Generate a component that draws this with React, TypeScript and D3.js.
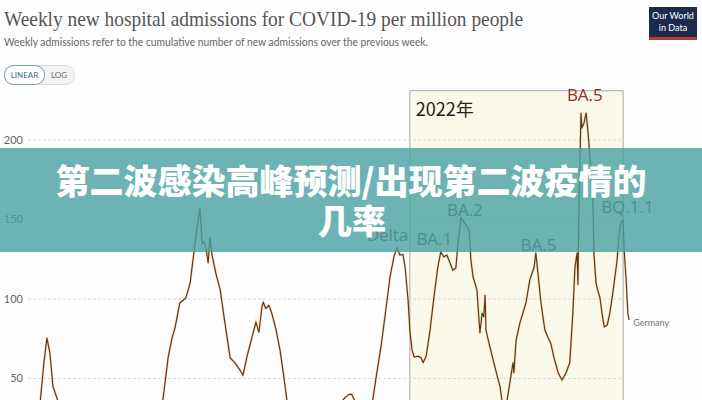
import React from 'react';
import * as d3 from 'd3';

// Germany – weekly new hospital admissions per million (week index from start of series)
const weeks = [
  0.5, 2.8, 3.7, 4.4, 5.1, 5.8, 6.7, 7.9, 9.8, 14.4, 21.4, 28.4, 30.7, 31.4, 32.6, 33.5, 34.2, 35.3,
  36.7, 37.7, 38.6, 39.3, 40.0, 40.5, 40.9, 41.4, 41.9, 42.3, 42.8, 43.7, 44.7, 45.8, 47.0, 48.1,
  49.3, 50.0, 50.9, 52.1, 53.0, 53.7, 54.4, 54.7, 55.3, 56.0, 56.7, 57.7, 58.6, 59.5, 60.2, 61.4,
  65.6, 70.2, 73.7, 74.7, 75.3, 76.0, 77.7, 79.5, 80.2, 81.2, 82.1, 83.3, 84.2, 85.1, 85.8, 86.5,
  87.2, 87.7, 88.4, 88.8, 89.3, 89.8, 90.7, 91.4, 91.9, 92.6, 93.5, 94.4, 95.3, 96.0, 96.7, 97.4,
  98.1, 98.8, 99.5, 100.0, 100.7, 101.9, 102.6, 103.0, 103.5, 104.4, 105.1, 105.6, 106.0, 106.3,
  106.5, 107.4, 108.6, 109.8, 110.2, 110.9, 111.4, 112.1, 112.8, 113.0, 113.5, 114.4, 115.8, 116.7,
  117.7, 118.1, 118.6, 119.3, 120.2, 120.9, 121.6, 122.3, 123.3, 124.2, 125.1, 126.0, 126.7, 127.2,
  127.7, 127.9, 128.1, 128.6, 128.8, 129.3, 129.8, 130.2, 130.7, 131.4, 131.6, 132.1, 132.6, 133.0,
  133.5, 134.0, 134.7, 135.3, 136.0, 137.0, 137.4, 137.9, 138.4, 138.6, 139.1, 139.5, 139.8,
];
const admissions = [
  20, 34, 60, 75.5, 66, 45, 38, 25, 15, 10, 8, 20, 33, 37, 63.5, 75.5, 82, 97.5,
  100.6, 110, 129.6, 145, 157, 135, 136, 132, 122.6, 139, 127.7, 116, 105.7, 85, 63, 60,
  55.3, 52, 63.5, 76, 85.5, 79, 95, 98, 94, 96, 91, 80.5, 68, 51, 36.5, 28,
  20, 25, 38, 40, 40, 36, 30, 32, 37, 55, 70, 95, 114, 126.6, 132, 127.7,
  128, 120, 99, 80.5, 68, 63.5, 64, 63, 60, 64, 80.5, 101, 120, 129.6, 126.5, 127.7,
  123, 118, 119.5, 135, 151, 146.5, 143, 124.5, 114, 105.7, 78.6, 91, 88.7, 102.5,
  80.5, 70, 57, 44.6, 36.5, 33, 36, 48, 60, 53.5, 74, 85, 97.5, 112,
  120, 129, 116, 97.5, 80.5, 76, 72, 63.5, 53.5, 49, 53.5, 60, 91, 120,
  129, 109, 154, 217, 207.5, 210.7, 217, 206, 189, 158, 129, 110, 104.5, 101,
  91, 82.4, 83.6, 91, 103.7, 124.5, 139, 148, 149.7, 132.7, 112, 91, 86.8,
];

const yTicks = [50, 100, 150, 200];

// variant annotations
const variantNames = ['Delta', 'BA.1', 'BA.2', 'BA.5', 'BA.5', 'BQ.1.1'];
const variantWeeks = [83.6, 94.5, 101.6, 118.7, 129.5, 139.4];
const variantValues = [136.5, 134, 152.2, 130.2, 224.5, 154];
const variantHighlight = [false, false, false, false, true, false];

// the 2022 window
const yearLabel = '2022年';
const yearStartWeek = 88.8;
const yearEndWeek = 138.4;
const yearTopValue = 231;

const titleText = 'Weekly new hospital admissions for COVID-19 per million people';
const subtitleText = 'Weekly admissions refer to the cumulative number of new admissions over the previous week.';
const bannerLines = ['第二波感染高峰预测/出现第二波疫情的', '几率'];
const seriesName = 'Germany';

export default function App() {
  const width = 702;
  const height = 400;
  const x = d3.scaleLinear().domain([0, 140]).range([28, 630]);
  const y = d3.scaleLinear().domain([0, 200]).range([458, 140]);

  const pts = weeks.map((w, i) => [w, admissions[i]] as [number, number]);
  const line = d3
    .line<[number, number]>()
    .x((d) => x(d[0]))
    .y((d) => y(d[1]))
    .curve(d3.curveLinear);

  const last = pts[pts.length - 1];

  return (
    <svg
      width={width}
      height={height}
      style={{ position: 'absolute', left: 0, top: 0, background: '#fff' }}
    >
      <rect x={0} y={0} width={width} height={height} fill="#fdfdfd" />
      {/* title */}
      <text
        x={4}
        y={26}
        fontFamily="'Liberation Serif', serif"
        fontSize={21}
        fill="#555"
        textLength={519}
        lengthAdjust="spacingAndGlyphs"
      >
        {titleText}
      </text>
      <text
        x={4}
        y={46}
        fontFamily="Lato, sans-serif"
        fontSize={11}
        fill="#666"
        textLength={424}
        lengthAdjust="spacingAndGlyphs"
      >
        {subtitleText}
      </text>

      {/* LINEAR / LOG toggle */}
      <rect x={4.5} y={65.5} width={70} height={19} rx={9} fill="#f3f3f3" stroke="#ddd" />
      <rect x={4.5} y={65.5} width={40} height={19} rx={9} fill="#fff" stroke="#7d9fb2" />
      <text x={24.5} y={78} textAnchor="middle" fontFamily="Lato, sans-serif" fontSize={8} fill="#46688a">
        LINEAR
      </text>
      <text x={59} y={78} textAnchor="middle" fontFamily="Lato, sans-serif" fontSize={8} fill="#666">
        LOG
      </text>

      {/* OWID logo */}
      <rect x={649} y={7} width={48} height={33} fill="#1d2a4d" />
      <rect x={649} y={37} width={48} height={3} fill="#b23a3a" />
      <text x={673} y={19} textAnchor="middle" fontFamily="Lato, sans-serif" fontSize={9} fill="#fff">
        Our World
      </text>
      <text x={673} y={31} textAnchor="middle" fontFamily="Lato, sans-serif" fontSize={9} fill="#fff">
        in Data
      </text>

      {/* 2022 window */}
      <rect
        x={x(yearStartWeek)}
        y={y(yearTopValue)}
        width={x(yearEndWeek) - x(yearStartWeek)}
        height={y(0) - y(yearTopValue)}
        fill="#fbf9e9"
        stroke="#a9a9a9"
        strokeWidth={1}
      />

      {/* grid */}
      {yTicks.map((t) => (
        <g key={t}>
          <line
            x1={x(0)}
            x2={x(138.8)}
            y1={y(t)}
            y2={y(t)}
            stroke="#dcdcdc"
            strokeDasharray="3,2"
          />
          <text
            x={23}
            y={y(t)}
            dy="0.35em"
            textAnchor="end"
            fontFamily="Lato, sans-serif"
            fontSize={11}
            fill="#666"
          >
            {t}
          </text>
        </g>
      ))}

      <text x={x(yearStartWeek) + 6} y={116} fontFamily="'Noto Sans CJK SC', sans-serif" fontSize={18} fill="#222">
        {yearLabel}
      </text>

      {/* series */}
      <path d={line(pts) || ''} fill="none" stroke="#e8a35c" strokeWidth={2.2} strokeOpacity={0.5} />
      <path d={line(pts) || ''} fill="none" stroke="#5a3418" strokeWidth={1.1} strokeLinejoin="round" />
      <text x={x(last[0]) + 4} y={y(last[1]) + 6} fontFamily="Lato, sans-serif" fontSize={9} fill="#777">
        {seriesName}
      </text>

      {/* variant labels */}
      {variantNames.map((n, i) => (
        <text
          key={i}
          x={x(variantWeeks[i])}
          y={y(variantValues[i])}
          textAnchor="middle"
          fontFamily="'Open Sans', sans-serif"
          fontSize={17}
          fill={variantHighlight[i] ? '#a02a2c' : '#4a4a4a'}
        >
          {n}
        </text>
      ))}

      {/* banner overlay */}
      <rect x={0} y={148} width={width} height={104} fill="#49a0a2" fillOpacity={0.8} />
      <text
        x={351}
        y={182}
        dy="0.35em"
        textAnchor="middle"
        fontFamily="'Noto Sans CJK SC', sans-serif"
        fontWeight={900}
        fontSize={34}
        fill="#fff"
      >
        {bannerLines[0]}
      </text>
      <text
        x={352}
        y={222}
        dy="0.35em"
        textAnchor="middle"
        fontFamily="'Noto Sans CJK SC', sans-serif"
        fontWeight={900}
        fontSize={34}
        fill="#fff"
      >
        {bannerLines[1]}
      </text>
    </svg>
  );
}
